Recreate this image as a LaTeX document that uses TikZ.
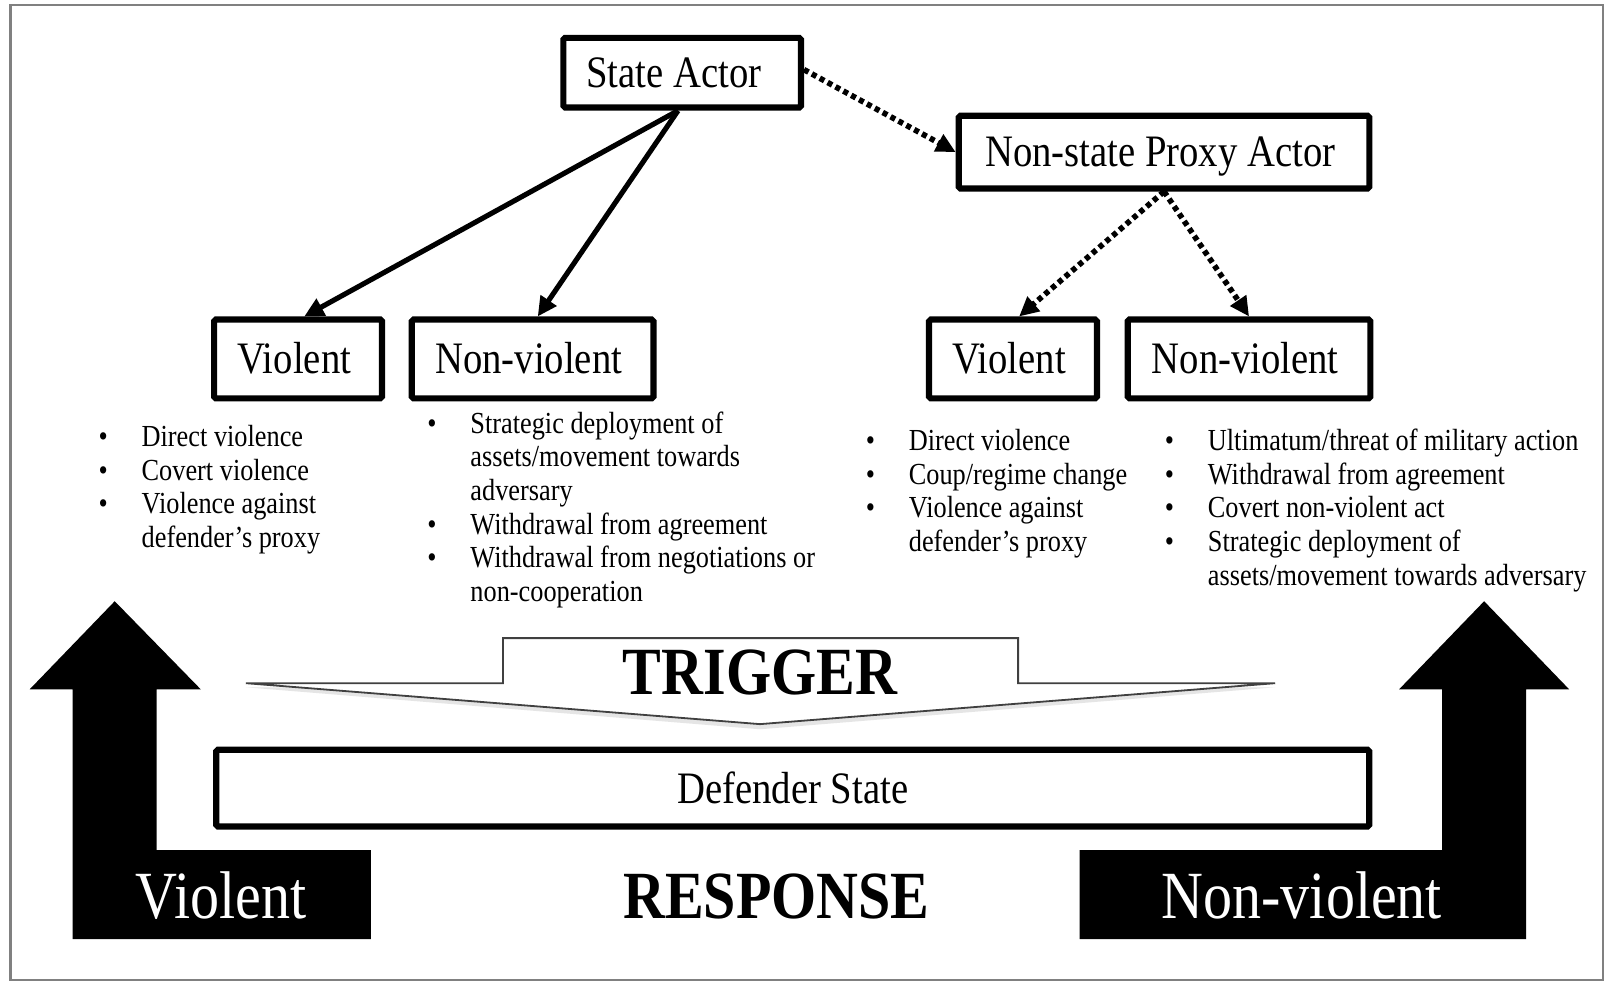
\documentclass[tikz,border=0pt]{standalone}
\usepackage{fontspec}
\setmainfont{Liberation Serif}[FakeStretch=0.86]
\usetikzlibrary{arrows.meta}
\newcommand\bl{\makebox[0.84cm][l]{\textbullet}}
\tikzset{
 boxnode/.style={draw, line width=0.12cm, fill=white, inner sep=0pt, rounded corners=1pt,
   font=\fontsize{25}{30}\selectfont, text height=16.5pt, text depth=0pt},
 solidarr/.style={line width=0.1cm, -{Triangle[length=0.38cm,width=0.36cm]}},
 dotarr/.style={line width=0.11cm, dash pattern=on 0.1cm off 0.075cm, -{Triangle[length=0.38cm,width=0.36cm]}},
 listnode/.style={anchor=base west, inner sep=0pt, font=\fontsize{17}{18.7}\selectfont},
 bigtext/.style={font=\fontsize{37.5}{40}\selectfont\bfseries, anchor=base, inner sep=0pt},
 whitetext/.style={text=white, font=\fontsize{37.5}{40}\selectfont, anchor=base, inner sep=0pt},
}
\begin{document}
\begin{tikzpicture}[x=0.02cm,y=-0.02cm]
\useasboundingbox (0,0) rectangle (1568,959);
\fill[white] (0,0) rectangle (1568,959);
\draw[black!50, line width=1.4pt] (10,5) rectangle (1565,957);
% big response arrows
\fill[black] (112,587) -- (196,673) -- (153,673) -- (153,830) -- (362,830) -- (362,917) -- (71,917) -- (71,673) -- (29,673) -- cycle;
\fill[black] (1449,587) -- (1532,673) -- (1490,673) -- (1490,917) -- (1054,917) -- (1054,830) -- (1408,830) -- (1408,673) -- (1366,673) -- cycle;
% trigger arrow
\fill[black!10] (240,671) -- (491,671) -- (491,627) -- (994,627) -- (994,671) -- (1245,671) -- (742,712) -- cycle;
\draw[fill=white, draw=black!75, line width=1pt] (240,667) -- (491,667) -- (491,623) -- (994,623) -- (994,667) -- (1245,667) -- (742,707) -- cycle;
% boxes
\node[boxnode, minimum width=4.64cm, minimum height=1.36cm] (sa) at (666,71) {State Actor\kern0.32cm};
\node[boxnode, minimum width=8.02cm, minimum height=1.42cm] (ns) at (1136.5,148.5) {Non-state Proxy Actor\kern0.15cm};
\node[boxnode, minimum width=3.28cm, minimum height=1.54cm] (lv) at (291,350.5) {Violent\kern0.15cm};
\node[boxnode, minimum width=4.72cm, minimum height=1.54cm] (lnv) at (520,350.5) {Non-violent\kern0.15cm};
\node[boxnode, minimum width=3.28cm, minimum height=1.54cm] (rv) at (989,350.5) {Violent\kern0.15cm};
\node[boxnode, minimum width=4.74cm, minimum height=1.54cm] (rnv) at (1219.5,350.5) {Non-violent\kern0.15cm};
\node[boxnode, minimum width=22.52cm, minimum height=1.50cm] (ds) at (774,769.5) {Defender State};
% connectors
\draw[solidarr] ([xshift=-0.08cm]sa.south) -- ([xshift=0.12cm]lv.north);
\draw[solidarr] ([xshift=-0.08cm]sa.south) -- ([xshift=0.1cm]lnv.north);
\draw[dotarr] ([yshift=0.06cm]sa.east) -- (ns.west);
\draw[dotarr] (ns.south) -- ([xshift=0.12cm]rv.north);
\draw[dotarr] (ns.south) -- (rnv.north);
% lists
\node[listnode] (l1) at (96,436) {\begin{tabular}[t]{@{}l@{}l@{}}
\bl & Direct violence\\ \bl & Covert violence\\ \bl & Violence against\\ & defender's proxy
\end{tabular}};
\node[listnode] (l2) at (417,423) {\begin{tabular}[t]{@{}l@{}l@{}}
\bl & Strategic deployment of\\ & assets/movement towards\\ & adversary\\
\bl & Withdrawal from agreement\\ \bl & Withdrawal from negotiations or\\ & non-cooperation
\end{tabular}};
\node[listnode] (r1) at (845,440) {\begin{tabular}[t]{@{}l@{}l@{}}
\bl & Direct violence\\ \bl & Coup/regime change\\ \bl & Violence against\\ & defender's proxy
\end{tabular}};
\node[listnode] (r2) at (1137,440) {\begin{tabular}[t]{@{}l@{}l@{}}
\bl & Ultimatum/threat of military action\\ \bl & Withdrawal from agreement\\ \bl & Covert non-violent act\\
\bl & Strategic deployment of\\ & assets/movement towards adversary
\end{tabular}};
% big labels
\node[bigtext] (trig) at (742,678) {TRIGGER};
\node[bigtext] (resp) at (758,897) {RESPONSE};
\node[whitetext] (wv) at (216,897) {Violent};
\node[whitetext] (wnv) at (1271,897) {Non-violent};
\end{tikzpicture}
\end{document}
